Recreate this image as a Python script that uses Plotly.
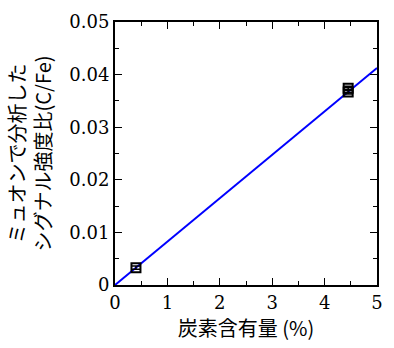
import plotly.graph_objects as go

carbon = [0.40, 4.45, 4.45]
ratio = [0.0033, 0.0374, 0.0367]
ratio_err = [0.0003, 0.0004, 0.0004]
fit_x = [0.0, 5.0]
fit_slope = 0.00825
fit_y = [fit_slope * v for v in fit_x]

serif = "DejaVu Serif"
cjk = "Noto Sans CJK JP"

fig = go.Figure()
fig.add_trace(go.Scatter(x=fit_x, y=fit_y, mode="lines",
                         line=dict(color="#0000ff", width=2), showlegend=False))
fig.add_trace(go.Scatter(x=carbon, y=ratio, mode="markers",
                         marker=dict(symbol="square-open", size=9, color="black",
                                     line=dict(width=2, color="black")),
                         error_y=dict(type="data", array=ratio_err, color="black",
                                      thickness=1.5, width=4),
                         showlegend=False))

axis_common = dict(showline=True, linecolor="black", linewidth=2, mirror="allticks",
                   ticks="inside", ticklen=7, tickwidth=1, tickcolor="black",
                   showgrid=False, zeroline=False,
                   tickfont=dict(family=serif, size=18, color="black"))

fig.update_xaxes(range=[0, 5], dtick=1,
                 minor=dict(dtick=0.5, ticks="inside", ticklen=4, tickcolor="black"),
                 title=dict(text="炭素含有量 (%)",
                            standoff=4, font=dict(family=cjk, size=20, color="black")),
                 **axis_common)
fig.update_yaxes(range=[0, 0.05], dtick=0.01,
                 minor=dict(dtick=0.005, ticks="inside", ticklen=4, tickcolor="black"),
                 title=dict(text="ミュオンで分析した<br>シグナル強度比(C/Fe)",
                            standoff=12, font=dict(family=cjk, size=20, color="black")),
                 **axis_common)

fig.update_layout(width=394, height=348, margin=dict(l=115, r=17, t=22, b=63),
                  plot_bgcolor="white", paper_bgcolor="white")
fig.write_html("out.html")
